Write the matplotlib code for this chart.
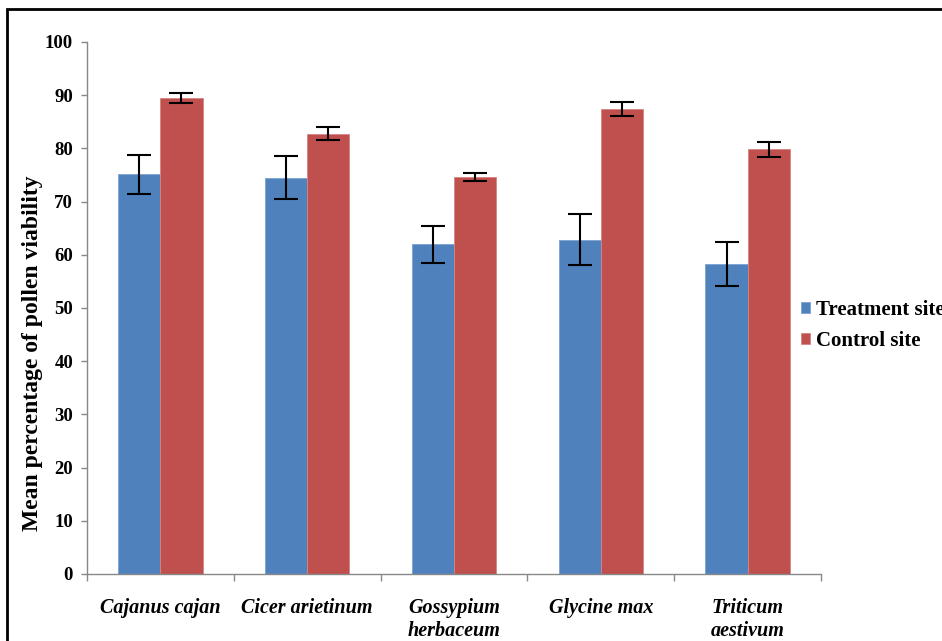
import numpy as np
import matplotlib
matplotlib.use('Agg')
import matplotlib.pyplot as plt
from matplotlib.patches import Rectangle

species = ['Cajanus cajan', 'Cicer arietinum', 'Gossypium\nherbaceum',
           'Glycine max', 'Triticum\naestivum']
treatment = [75.1, 74.5, 62.0, 62.8, 58.3]
treatment_err = [3.7, 4.1, 3.5, 4.8, 4.1]
control = [89.5, 82.8, 74.6, 87.4, 79.8]
control_err = [1.0, 1.3, 0.7, 1.4, 1.4]
yticks = np.arange(0, 101, 10)

plt.rcParams['font.family'] = ['Liberation Serif', 'DejaVu Serif']

fig = plt.figure(figsize=(9.42, 6.41), dpi=100)
ax = fig.add_axes([87/942, 1-574/641, (821-87)/942, (574-42)/641])

x = np.arange(len(species))
w = 0.287
ekw = dict(ecolor='black', elinewidth=1.5, capsize=8.5, capthick=1.5)
ax.bar(x - w/2, treatment, w, color='#4F81BD', edgecolor='#7EA2D0', linewidth=0.6,
       yerr=treatment_err, error_kw=ekw, label='Treatment site')
ax.bar(x + w/2, control, w, color='#C0504D', edgecolor='#D58582', linewidth=0.6,
       yerr=control_err, error_kw=ekw, label='Control site')

ax.set_xlim(-0.5, len(species) - 0.5)
ax.set_ylim(0, 100)
ax.set_yticks(yticks)
ax.set_yticklabels([str(v) for v in yticks], fontsize=13.5, fontweight='bold')
ax.set_xticks(x)
ax.set_xticklabels(species, fontsize=14.5, fontweight='bold', style='italic',
                   linespacing=1.2)
ax.tick_params(axis='x', length=0, pad=17)
ax.set_xticks(np.arange(len(species) + 1) - 0.5, minor=True)
ax.tick_params(axis='x', which='minor', length=5, color='#888888', width=1)
ax.tick_params(axis='y', length=4, color='#888888', width=1, pad=6)

for s in ['top', 'right']:
    ax.spines[s].set_visible(False)
for s in ['left', 'bottom']:
    ax.spines[s].set_color('#888888')
    ax.spines[s].set_linewidth(1)

ax.set_ylabel('Mean percentage of pollen viability', fontsize=17, fontweight='bold')
ax.yaxis.set_label_coords(-0.06, 0.415)

fig.legend(loc='upper left', bbox_to_anchor=(782/942, 1-281/641), frameon=False,
           prop={'size': 15, 'weight': 'bold'}, handlelength=0.45, handleheight=0.45,
           handletextpad=0.3, labelspacing=0.55)

# outer frame around the chart
fig.patches.append(Rectangle((7/942, -0.1), 1.2, 1.1 - 9/641, transform=fig.transFigure,
                             fill=False, edgecolor='black', linewidth=2))

fig.savefig('out.png', dpi=100)
